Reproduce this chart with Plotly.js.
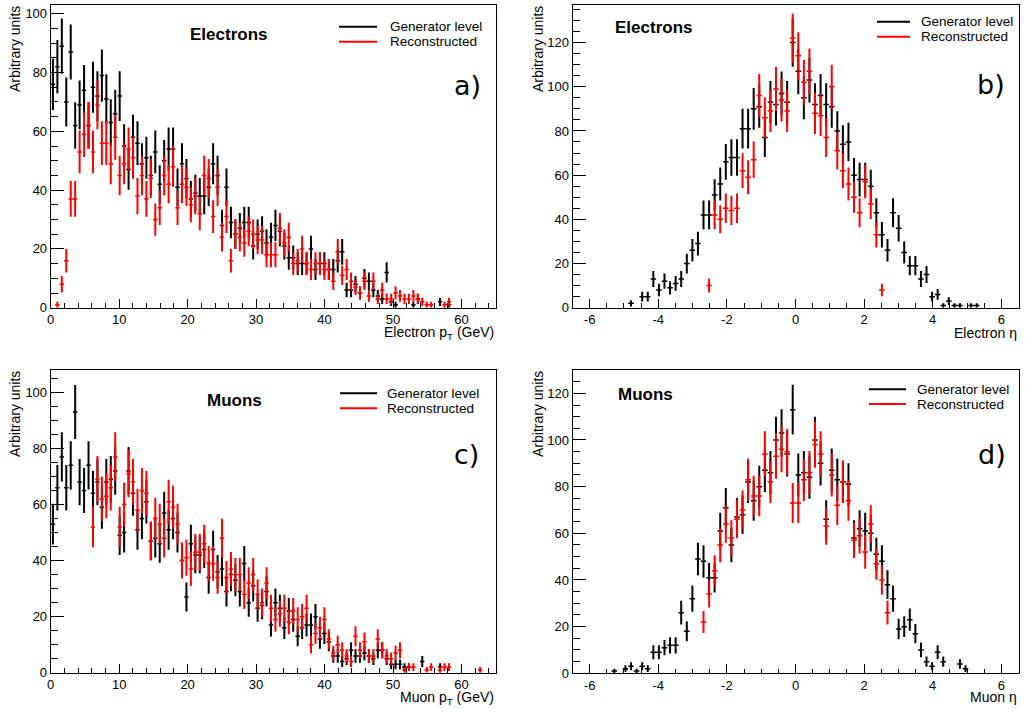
<!DOCTYPE html>
<html><head><meta charset="utf-8">
<script src="https://cdn.plot.ly/plotly-3.0.1.min.js"></script>
<style>body{margin:0;background:#fff}#chart{width:1025px;height:713px}</style>
</head><body><div id="chart"></div>
<script>
// ---- histogram binning ----
const ptBins  = {n: 100, min: 0,    max: 65};
const etaBins = {n: 80,  min: -6.5, max: 6.5};

// ---- data (bin contents, null = empty bin) ----
const elePtGen = [76,82,89,70,87,62,69,74,62,75,
 72,79,71,63,66,72,55,47,58,56,
 49,51,45,53,42,50,54,54,41,49,
 44,37,39,38,38,41,49,45,28,41,
 29,25,27,29,29,21,25,26,22,24,
 28,26,21,17,17,15,15,15,20,13,
 15,15,13,13,16,19,6,6,8,5,
 10,9,6,4,3,12,2,1,null,null,
 null,1,3,null,null,null,null,2,null,1,
 null,null,null,null,null,null,null,null,null,null];
const elePtReco = [null,1,8,16,37,37,53,59,62,53,
 69,56,56,49,58,45,49,54,51,38,
 45,37,44,30,34,45,42,48,34,42,
 41,35,38,32,45,44,31,41,24,31,
 16,25,24,22,26,25,23,23,18,18,
 18,27,22,24,15,16,20,15,13,15,
 15,13,13,9,19,11,13,9,7,5,
 9,4,9,3,6,3,3,5,4,3,
 3,4,3,2,1,1,null,null,1,2,
 null,null,null,null,null,null,null,null,null,null];
const eleEtaGen = [null,null,null,null,null,null,null,null,null,null,
 2,null,5,5,13,8,12,9,11,13,
 20,26,29,42,42,51,56,66,68,68,
 81,81,90,91,77,93,92,97,93,120,
 107,95,103,92,96,92,91,80,74,75,
 60,58,58,55,43,33,26,43,36,25,
 19,19,13,15,5,6,1,3,1,1,
 null,1,1,null,null,null,null,null,null,null];
const eleEtaReco = [null,null,null,null,null,null,null,null,null,null,
 null,null,null,null,null,null,null,null,null,null,
 null,null,null,null,10,42,40,45,44,45,
 62,59,67,96,86,89,99,94,89,122,
 114,102,107,88,87,77,100,71,62,56,
 50,43,57,47,33,8,null,null,null,null,
 null,null,null,null,null,null,null,null,null,null,
 null,null,null,null,null,null,null,null,null,null];
const muPtGen = [53,66,77,66,74,93,68,65,74,64,
 68,59,68,69,72,49,50,72,64,51,
 55,61,47,48,46,57,51,55,50,40,
 27,46,42,42,44,34,44,36,37,29,
 35,33,29,39,25,31,23,24,29,17,
 25,23,16,22,19,13,16,17,17,20,
 12,14,11,6,6,4,5,8,6,6,
 7,6,5,8,8,5,3,3,3,2,
 2,null,null,4,null,null,null,2,null,null,
 null,null,null,null,null,null,null,null,null,null];
const muPtReco = [null,null,null,null,null,null,null,null,null,52,
 69,62,63,66,77,52,60,71,68,58,
 65,64,47,55,53,48,61,59,53,40,
 41,37,43,43,46,39,39,34,48,34,
 37,35,35,28,32,35,28,25,32,23,
 19,21,23,18,22,19,20,23,10,14,
 16,19,12,7,10,8,6,4,13,8,
 11,6,6,12,8,6,5,7,8,1,
 2,2,null,null,1,2,null,1,2,2,
 null,null,null,null,null,null,1,null,null,null];
const muEtaGen = [null,null,null,null,null,null,null,1,null,2,
 3,1,3,2,9,9,11,12,12,26,
 18,32,49,48,41,41,61,71,55,67,
 68,82,74,80,87,86,100,103,94,113,
 85,86,84,100,90,66,87,83,82,81,
 58,62,61,60,51,48,38,32,19,20,
 23,17,10,5,3,9,5,null,null,4,
 2,null,null,null,null,null,null,null,null,null];
const muEtaReco = [null,null,null,null,null,null,null,null,null,null,
 null,null,null,null,null,null,null,null,null,null,
 null,null,null,22,34,44,55,64,58,66,
 70,83,76,76,94,82,93,96,95,73,
 73,83,86,98,94,63,85,72,82,74,
 57,59,52,64,47,40,26,null,null,null,
 null,null,null,null,null,null,null,null,null,null,
 null,null,null,null,null,null,null,null,null,null];

// ---- labels ----
const seriesNames = ['Generator level', 'Reconstructed'];
const seriesColors = ['#000000', '#ff0000'];
const panelTitles = ['Electrons', 'Electrons', 'Muons', 'Muons'];
const panelTags = ['a)', 'b)', 'c)', 'd)'];
const xTitles = ['Electron p<sub>T</sub> (GeV)', 'Electron η', 'Muon p<sub>T</sub> (GeV)', 'Muon η'];
const yTitle = 'Arbitrary units';
const ptTickVals = [0, 10, 20, 30, 40, 50, 60];
const ptTickText = ['0', '10', '20', '30', '40', '50', '60'];
const etaTickVals = [-6, -4, -2, 0, 2, 4, 6];
const etaTickText = ['-6', '-4', '-2', '0', '2', '4', '6'];

// ---- build ----
const W = 1025, H = 713;
const px = v => v / W, py = v => 1 - v / H;
function centers(b) { const w = (b.max - b.min) / b.n; return Array.from({length: b.n}, (_, i) => b.min + w * (i + 0.5)); }

const panels = [
  {bins: ptBins,  gen: elePtGen,  reco: elePtReco,  yMax: 103, L: 50.7,  R: 495.7,  T: 5,   B: 307.7,
   title: [228.5, 34], leg: [339, 377, 26.7, 41.7, 388], tag: [467, 85], xt: [496, 333], yt: [15, 49]},
  {bins: etaBins, gen: eleEtaGen, reco: eleEtaReco, yMax: 137, L: 572.5, R: 1018.5, T: 5,   B: 307.7,
   title: [653, 27.5], leg: [877, 910, 21.7, 36.7, 919], tag: [991, 84], xt: [1019, 333], yt: [538, 49]},
  {bins: ptBins,  gen: muPtGen,   reco: muPtReco,   yMax: 108, L: 50.7,  R: 495.7,  T: 370, B: 672.7,
   title: [234, 400], leg: [340, 377, 393.3, 408.3, 385], tag: [466, 455], xt: [496, 698], yt: [15, 414]},
  {bins: etaBins, gen: muEtaGen,  reco: muEtaReco,  yMax: 130, L: 572.5, R: 1018.5, T: 370, B: 673.3,
   title: [645, 395], leg: [869, 906, 389.3, 404, 915], tag: [992, 455], xt: [1019, 697], yt: [538, 414]}
];

const traces = [];
const layout = {
  width: W, height: H, margin: {l: 0, r: 0, t: 0, b: 0},
  paper_bgcolor: '#fff', plot_bgcolor: '#fff', showlegend: false,
  annotations: [], shapes: []
};
const tickFont = {family: 'Liberation Sans, Arial, sans-serif', size: 13, color: '#000'};
const txtFont = {family: 'Liberation Sans, Arial, sans-serif', size: 14, color: '#000'};

panels.forEach((p, k) => {
  const n = k + 1, xa = 'x' + (n === 1 ? '' : n), ya = 'y' + (n === 1 ? '' : n);
  const xc = centers(p.bins), hw = (p.bins.max - p.bins.min) / p.bins.n / 2;
  [p.gen, p.reco].forEach((vals, s) => {
    traces.push({
      type: 'scatter', mode: 'markers', x: xc, y: vals, xaxis: xa, yaxis: ya,
      name: seriesNames[s], hoverinfo: 'skip', cliponaxis: true,
      marker: {size: 2, color: seriesColors[s]},
      error_y: {type: 'sqrt', color: seriesColors[s], thickness: 2, width: 0},
      error_x: {type: 'constant', value: hw, color: seriesColors[s], thickness: 1.5, width: 0}
    });
  });
  const isPt = p.bins === ptBins;
  const common = {showline: true, linecolor: '#000', linewidth: 1, mirror: true, ticks: 'inside',
    tickcolor: '#000', tickwidth: 1, showgrid: false, zeroline: false, tickfont: tickFont, fixedrange: true};
  layout['xaxis' + (n === 1 ? '' : n)] = Object.assign({}, common, {
    domain: [px(p.L), px(p.R)], anchor: ya, range: [p.bins.min, p.bins.max],
    tickmode: 'array', tickvals: isPt ? ptTickVals : etaTickVals, ticktext: isPt ? ptTickText : etaTickText,
    ticklen: 9,
    minor: {ticks: 'inside', dtick: isPt ? 2 : 0.5, tick0: 0, ticklen: 4.5, tickcolor: '#000', showgrid: false}
  });
  layout['yaxis' + (n === 1 ? '' : n)] = Object.assign({}, common, {
    domain: [py(p.B), py(p.T)], anchor: xa, range: [0, p.yMax],
    tickmode: 'linear', tick0: 0, dtick: 20, ticklen: 13,
    minor: {ticks: 'inside', dtick: 5, tick0: 0, ticklen: 7, tickcolor: '#000', showgrid: false}
  });
  // texts
  layout.annotations.push({xref: 'paper', yref: 'paper', x: px(p.title[0]), y: py(p.title[1]), xanchor: 'center', yanchor: 'middle',
    showarrow: false, text: '<b>' + panelTitles[k] + '</b>', font: {family: 'Liberation Sans, Arial, sans-serif', size: 17, color: '#000'}});
  layout.annotations.push({xref: 'paper', yref: 'paper', x: px(p.tag[0]), y: py(p.tag[1]), xanchor: 'center', yanchor: 'middle',
    showarrow: false, text: panelTags[k], font: {family: 'DejaVu Sans, sans-serif', size: 27, color: '#000'}});
  layout.annotations.push({xref: 'paper', yref: 'paper', x: px(p.xt[0]), y: py(p.xt[1]), xanchor: 'right', yanchor: 'middle',
    showarrow: false, text: xTitles[k], font: txtFont});
  layout.annotations.push({xref: 'paper', yref: 'paper', x: px(p.yt[0]), y: py(p.yt[1]), xanchor: 'center', yanchor: 'middle',
    showarrow: false, textangle: -90, text: yTitle, font: txtFont});
  // legend
  const [lx0, lx1, ly0, ly1, tx] = p.leg;
  [ly0, ly1].forEach((ly, s) => {
    layout.shapes.push({type: 'line', xref: 'paper', yref: 'paper', x0: px(lx0), x1: px(lx1), y0: py(ly), y1: py(ly),
      line: {color: seriesColors[s], width: 2}});
    layout.annotations.push({xref: 'paper', yref: 'paper', x: px(tx), y: py(ly), xanchor: 'left', yanchor: 'middle',
      showarrow: false, text: seriesNames[s], font: {family: 'Liberation Sans, Arial, sans-serif', size: 13.5, color: '#000'}});
  });
});

Plotly.newPlot('chart', traces, layout, {staticPlot: true, displayModeBar: false});
</script></body></html>
